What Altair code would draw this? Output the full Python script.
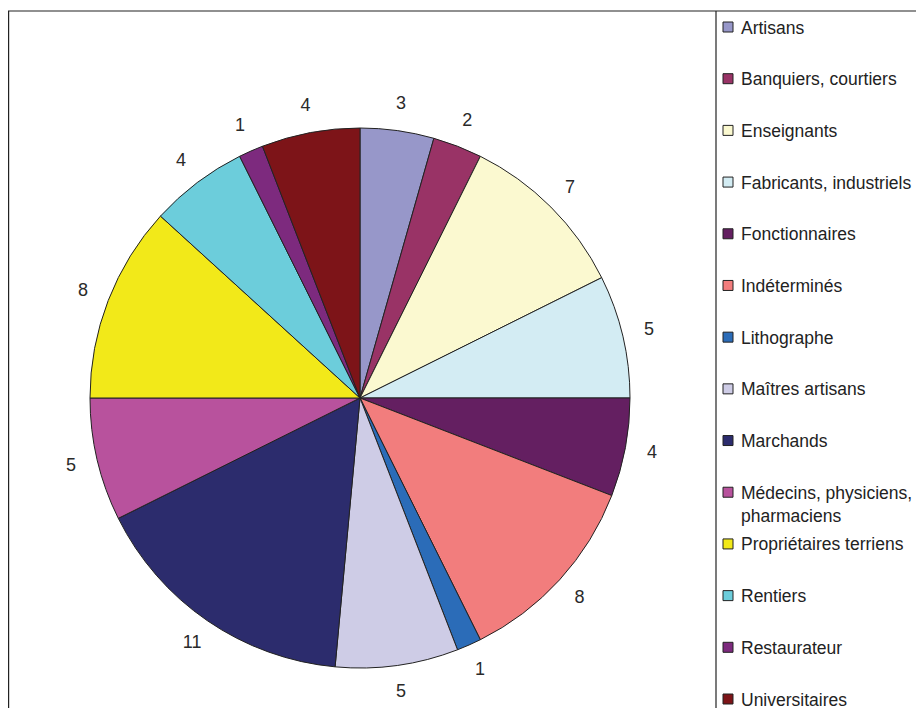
import altair as alt
import pandas as pd

categories = [
    "Artisans", "Banquiers, courtiers", "Enseignants", "Fabricants, industriels",
    "Fonctionnaires", "Indéterminés", "Lithographe", "Maîtres artisans",
    "Marchands", "Médecins, physiciens,\npharmaciens", "Propriétaires terriens",
    "Rentiers", "Restaurateur", "Universitaires",
]
values = [3, 2, 7, 5, 4, 8, 1, 5, 11, 5, 8, 4, 1, 4]
colors = [
    "#9797c9", "#993366", "#fbf9d0", "#d3ecf3", "#641f61", "#f27d7d", "#2b6cb8",
    "#cecce6", "#2c2c6d", "#b8529d", "#f2e919", "#6ccddb", "#7d2a7e", "#7d1418",
]

df = pd.DataFrame({"cat": categories, "n": values, "idx": list(range(len(values)))})

FONT = "Liberation Sans"
CX, CY, R = 352, 390, 270

color_scale = alt.Scale(domain=categories, range=colors)

base = alt.Chart(df).encode(
    theta=alt.Theta("n:Q", stack=True),
    order=alt.Order("idx:Q"),
)

pie = base.mark_arc(stroke="#222222", strokeWidth=1).encode(
    color=alt.Color("cat:N", scale=color_scale, legend=None),
    x=alt.value(CX), y=alt.value(CY), radius=alt.value(R),
)

labels = base.mark_text(font=FONT, fontSize=18, color="#2a2a2a").encode(
    text=alt.Text("n:Q"),
    x=alt.value(CX), y=alt.value(CY), radius=alt.value(297),
)

ypos = alt.Y("cat:N", sort=categories, axis=None,
             scale=alt.Scale(type="point", domain=categories, range=[19, 691], padding=0))

leg_sym = alt.Chart(df).mark_point(shape="square", filled=True, size=100,
                                    stroke="#222222", strokeWidth=1, opacity=1).encode(
    y=ypos,
    x=alt.value(720),
    fill=alt.Color("cat:N", scale=color_scale, legend=None),
)

leg_txt = alt.Chart(df).mark_text(font=FONT, fontSize=17.5, color="#222222", align="left",
                                   baseline="alphabetic", dy=6.5, lineBreak="\n",
                                   lineHeight=23).encode(
    y=ypos,
    x=alt.value(733),
    text="cat:N",
)

frame_top = alt.Chart(df.head(1)).mark_rule(color="#222222", strokeWidth=1.2).encode(
    x=alt.value(0), x2=alt.value(908), y=alt.value(3)
)
frame_left = alt.Chart(df.head(1)).mark_rule(color="#222222", strokeWidth=1.2).encode(
    x=alt.value(0.6), y=alt.value(3), y2=alt.value(700)
)
frame_mid = alt.Chart(df.head(1)).mark_rule(color="#222222", strokeWidth=1.2).encode(
    x=alt.value(708), y=alt.value(3), y2=alt.value(700)
)

chart = alt.layer(frame_top, frame_left, frame_mid, pie, labels, leg_sym, leg_txt).properties(
    width=908, height=700, padding=0,
    autosize=alt.AutoSizeParams(type="none"),
).configure_view(stroke=None)

chart.save("out.html", embed_options={"renderer": "svg", "actions": False})
